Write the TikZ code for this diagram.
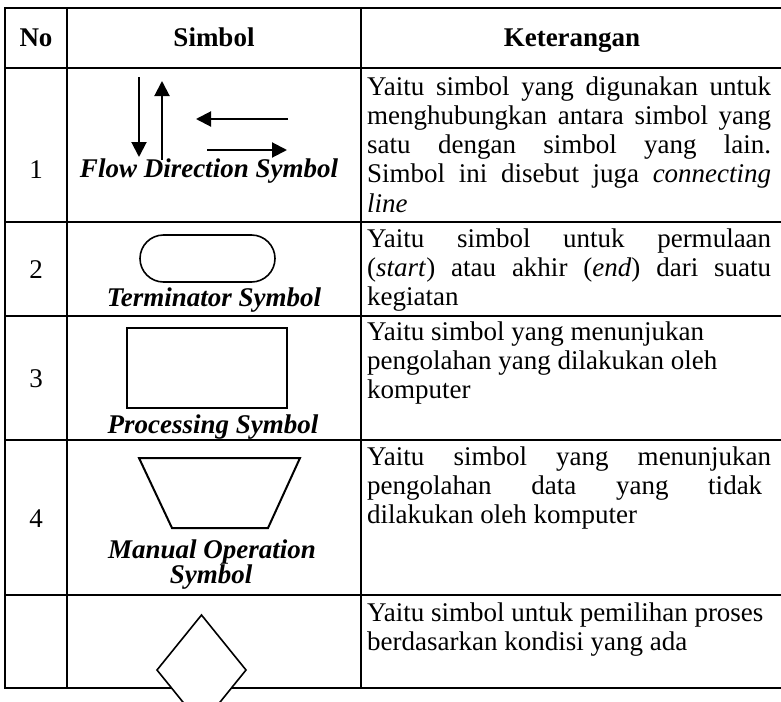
\documentclass[tikz,border=0pt]{standalone}
\usepackage{fontspec}
\setmainfont{Liberation Serif}
\usetikzlibrary{arrows.meta}
\newcommand{\jline}[2][404pt]{{\spaceskip=0pt\xspaceskip=0pt\makebox[#1][s]{#2}}}
\begin{document}
\begin{tikzpicture}[x=1pt,y=-1pt,
  grid/.style={line width=2.2pt},
  txt/.style={inner sep=0pt, anchor=base west, text width=410pt, align=flush left, font=\fontsize{27}{29.3}\selectfont},
  hd/.style={inner sep=0pt, anchor=base, font=\fontsize{27}{29.3}\selectfont\bfseries},
  num/.style={inner sep=0pt, anchor=base, font=\fontsize{27}{29.3}\selectfont},
  lbl/.style={inner sep=0pt, anchor=base, font=\fontsize{27}{24}\selectfont\bfseries\itshape},
  arr/.style={line width=2pt, -{Triangle[length=15pt,width=15pt]}},
  shp/.style={draw, line width=1.8pt}]
\useasboundingbox (0,0) rectangle (781,701);
\clip (0,0) rectangle (781,701);
% table grid
\draw[grid] (790,8) -- (5,8) -- (5,688) -- (790,688);
\foreach \yy in {68,222,316,440,595} \draw[grid] (5,\yy) -- (790,\yy);
\draw[grid] (67,8) -- (67,688);
\draw[grid] (361,8) -- (361,688);
% header
\node[hd] (hno) at (36,47) {No};
\node[hd] (hsim) at (214,47) {Simbol};
\node[hd] (hket) at (572,47) {Keterangan};
% numbers
\node[num] (n1) at (36,178) {1};
\node[num] (n2) at (36,278) {2};
\node[num] (n3) at (36,387) {3};
\node[num] (n4) at (36,527) {4};
% row 1: flow direction arrows
\coordinate (d1) at (139,77);  \coordinate (d2) at (139,157);
\coordinate (u1) at (162,160); \coordinate (u2) at (162,81);
\coordinate (l1) at (288,119); \coordinate (l2) at (196,119);
\coordinate (r1) at (207,150); \coordinate (r2) at (287,150);
\draw[arr] (d1) -- (d2);
\draw[arr] (u1) -- (u2);
\draw[arr] (l1) -- (l2);
\draw[arr] (r1) -- (r2);
\node[lbl] (lab1) at (209,177) {Flow Direction Symbol};
% row 2: terminator
\node[shp, line width=1.6pt, minimum width=135pt, minimum height=47pt, rounded corners=23.5pt, inner sep=0pt] (term) at (207.5,258.5) {};
\node[lbl] (lab2) at (214,306) {Terminator Symbol};
% row 3: processing
\node[shp, line width=2pt, minimum width=160pt, minimum height=80pt, inner sep=0pt] (proc) at (207,368) {};
\node[lbl] (lab3) at (213,433) {Processing Symbol};
% row 4: manual operation
\draw[line width=2pt, line join=miter] (139,458) -- (300,458) -- (268,528) -- (172,528) -- cycle;
\node[lbl] (lab4a) at (212,558) {Manual Operation};
\node[lbl] (lab4b) at (211,583) {Symbol};
% row 5: decision
\draw[line width=1.6pt, fill=white] (201.5,615) -- (246,670) -- (201.5,725) -- (157,670) -- cycle;
% keterangan texts
\node[txt] (t1) at (367,95) {\jline{Yaitu simbol yang digunakan untuk}\\
\jline{menghubungkan antara simbol yang}\\
\jline{satu dengan simbol yang lain.}\\
\jline{Simbol ini disebut juga \textit{connecting}}\\
\textit{line}};
\node[txt] (t2) at (367,247) {\jline{Yaitu simbol untuk permulaan}\\
\jline{(\textit{start}) atau akhir (\textit{end}) dari suatu}\\
kegiatan};
\node[txt] (t3) at (367,340) {Yaitu simbol yang menunjukan\\
pengolahan yang dilakukan oleh\\
komputer};
\node[txt] (t4) at (367,465) {\jline{Yaitu simbol yang menunjukan}\\
\jline[395pt]{pengolahan data yang tidak}\\
dilakukan oleh komputer};
\node[txt] (t5) at (367,621) {Yaitu simbol untuk pemilihan proses\\
berdasarkan kondisi yang ada};
\end{tikzpicture}
\end{document}
